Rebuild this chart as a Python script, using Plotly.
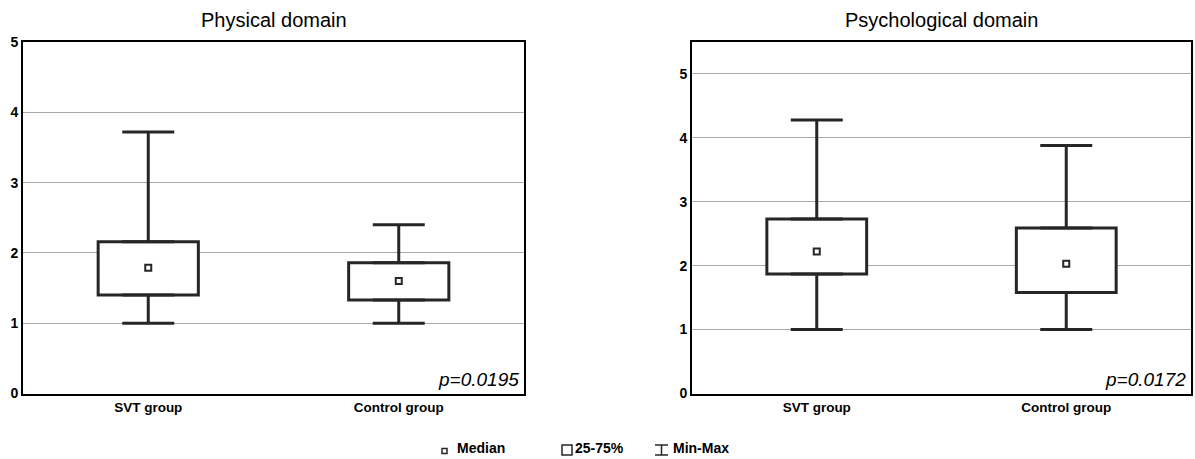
import plotly.graph_objects as go

groups = ["SVT group", "Control group"]

phys_min = [1.0, 1.0]
phys_q1 = [1.40, 1.33]
phys_median = [1.79, 1.60]
phys_q3 = [2.16, 1.86]
phys_max = [3.72, 2.40]
phys_p = "p=0.0195"

psy_min = [1.0, 1.0]
psy_q1 = [1.87, 1.58]
psy_median = [2.22, 2.03]
psy_q3 = [2.73, 2.59]
psy_max = [4.28, 3.88]
psy_p = "p=0.0172"

titles = ["Physical domain", "Psychological domain"]
legend_labels = ["Median", "25-75%", "Min-Max"]

INK = "#262626"
FONT = "Liberation Sans"

fig = go.Figure()


def add_panel(xa, ya, mn, q1, med, q3, mx):
    fig.add_trace(go.Bar(
        x=groups, y=[b - a for a, b in zip(q1, q3)], base=q1, width=0.4,
        marker=dict(color="white", line=dict(color=INK, width=3)),
        xaxis=xa, yaxis=ya, showlegend=False, hoverinfo="skip"))
    fig.add_trace(go.Scatter(
        x=groups, y=q3, mode="markers",
        marker=dict(size=1, color="rgba(0,0,0,0)"),
        error_y=dict(type="data", symmetric=False,
                     array=[b - a for a, b in zip(q3, mx)],
                     arrayminus=[0, 0], width=26, thickness=3, color=INK),
        xaxis=xa, yaxis=ya, showlegend=False, hoverinfo="skip"))
    fig.add_trace(go.Scatter(
        x=groups, y=q1, mode="markers",
        marker=dict(size=1, color="rgba(0,0,0,0)"),
        error_y=dict(type="data", symmetric=False,
                     array=[0, 0],
                     arrayminus=[a - b for a, b in zip(q1, mn)],
                     width=26, thickness=3, color=INK),
        xaxis=xa, yaxis=ya, showlegend=False, hoverinfo="skip"))
    fig.add_trace(go.Scatter(
        x=groups, y=med, mode="markers",
        marker=dict(symbol="square", size=6, color="white",
                    line=dict(color=INK, width=2)),
        xaxis=xa, yaxis=ya, showlegend=False))


add_panel("x", "y", phys_min, phys_q1, phys_median, phys_q3, phys_max)
add_panel("x2", "y2", psy_min, psy_q1, psy_median, psy_q3, psy_max)

ydom = [1 - 393.5 / 459, 1 - 42 / 459]
xtick_font = dict(family=FONT, size=13.5, color="black", weight="bold")
ytick_font = dict(family=FONT, size=14, color="black", weight="bold")
axis_common = dict(showline=True, mirror=True, linecolor="black", linewidth=2,
                   zeroline=False, ticks="", automargin=False)

fig.update_layout(
    width=1195, height=459, autosize=False,
    margin=dict(l=0, r=0, t=0, b=0, pad=0),
    paper_bgcolor="white", plot_bgcolor="white",
    showlegend=False,
    xaxis=dict(domain=[23 / 1195, 524 / 1195], range=[-0.5, 1.5], anchor="y",
               showgrid=False, tickfont=xtick_font, **axis_common),
    yaxis=dict(domain=ydom, range=[0, 5], dtick=1, anchor="x",
               showgrid=True, gridcolor="#a8a8a8", gridwidth=1,
               tickfont=ytick_font, **axis_common),
    xaxis2=dict(domain=[692 / 1195, 1191 / 1195], range=[-0.5, 1.5], anchor="y2",
                showgrid=False, tickfont=xtick_font, **axis_common),
    yaxis2=dict(domain=ydom, range=[0, 5.5], dtick=1, anchor="x2",
                showgrid=True, gridcolor="#a8a8a8", gridwidth=1,
                tickfont=ytick_font, **axis_common),
)

# titles
for xr, t in zip(["x domain", "x2 domain"], titles):
    fig.add_annotation(xref=xr, yref="paper", x=0.5, y=1 - 20 / 459, text=t,
                       showarrow=False, yanchor="middle",
                       font=dict(family=FONT, size=20, color="black"))

# p-values
for xr, yr, p in zip(["x domain", "x2 domain"], ["y domain", "y2 domain"], [phys_p, psy_p]):
    fig.add_annotation(xref=xr, yref=yr, x=1, y=0, xshift=-3, yshift=2, text=p,
                       showarrow=False, xanchor="right", yanchor="bottom",
                       font=dict(family=FONT, size=19, color="black", style="italic"))

# legend
fig.add_shape(type="rect", xref="paper", yref="paper",
              x0=442 / 1195, x1=447 / 1195, y0=1 - 453.5 / 459, y1=1 - 448.5 / 459,
              line=dict(color=INK, width=1.5), fillcolor="white")
fig.add_shape(type="rect", xref="paper", yref="paper",
              x0=562 / 1195, x1=572 / 1195, y0=1 - 455 / 459, y1=1 - 445 / 459,
              line=dict(color=INK, width=1.5), fillcolor="white")
fig.add_shape(type="line", xref="paper", yref="paper",
              x0=661.5 / 1195, x1=661.5 / 1195, y0=1 - 455 / 459, y1=1 - 445 / 459,
              line=dict(color=INK, width=1.5))
fig.add_shape(type="line", xref="paper", yref="paper",
              x0=655 / 1195, x1=668 / 1195, y0=1 - 445 / 459, y1=1 - 445 / 459,
              line=dict(color=INK, width=1.5))
fig.add_shape(type="line", xref="paper", yref="paper",
              x0=655 / 1195, x1=668 / 1195, y0=1 - 455 / 459, y1=1 - 455 / 459,
              line=dict(color=INK, width=1.5))
for xpix, lab in zip([455, 573, 671], legend_labels):
    fig.add_annotation(xref="paper", yref="paper", x=xpix / 1195, y=1 - 448 / 459,
                       text=lab, showarrow=False, xanchor="left", yanchor="middle",
                       font=dict(family=FONT, size=14, color="black", weight="bold"))

fig.write_html("out.html",
               config={"displayModeBar": False},
               post_script="document.body.style.margin='0';"
                           "document.body.style.overflow='hidden';")
